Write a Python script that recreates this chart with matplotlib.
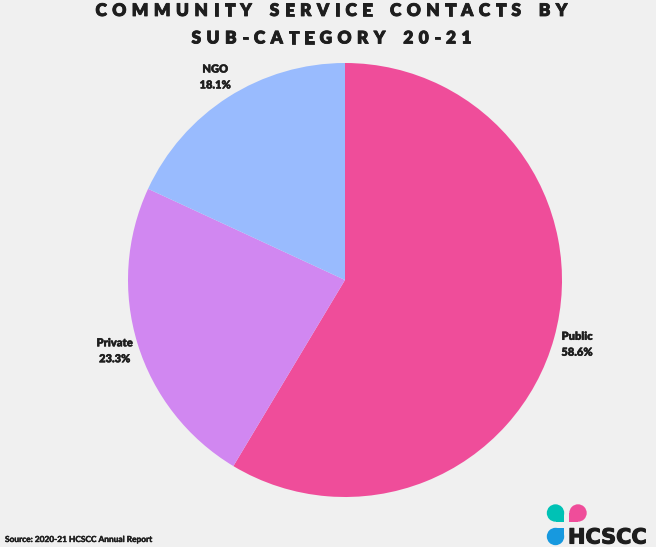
import matplotlib
matplotlib.use("Agg")
import matplotlib.pyplot as plt
import matplotlib.patheffects as pe
from matplotlib.patches import Rectangle, Circle

# data
labels = ["Public", "Private", "NGO"]
shares = [58.6, 23.3, 18.1]
colors = ["#EF4D9A", "#D187F1", "#99BBFE"]

title_lines = ["COMMUNITY SERVICE CONTACTS BY", "SUB-CATEGORY 20-21"]
source = "Source: 2020-21 HCSCC Annual Report"

fig = plt.figure(figsize=(6.63, 5.52), dpi=100)
fig.patch.set_facecolor("white")

# overlay axes in pixel coordinates
bg = fig.add_axes([0, 0, 1, 1], zorder=0)
bg.set_xlim(0, 663)
bg.set_ylim(552, 0)
bg.axis("off")
bg.add_patch(Rectangle((0, 0), 656, 547, facecolor="#F0F0F0", edgecolor="none"))

# thicker strokes for heavy text
heavy = lambda w: [pe.withStroke(linewidth=w, foreground="#1E1E1E")]

# pie
ax = fig.add_axes([128 / 663, 55 / 552, 434 / 663, 434 / 552], zorder=1)
ax.patch.set_alpha(0)
wedges, texts = ax.pie(shares, colors=colors, startangle=90, counterclock=False,
                       labels=[f"{l}\n{s}%" for l, s in zip(labels, shares)],
                       labeldistance=1.11,
                       textprops=dict(fontsize=8, fontweight="heavy", family="Lato",
                                      color="#1E1E1E", linespacing=1.55))
for t in texts:
    t.set_ha("center")
    t.set_va("center")
    t.set_path_effects(heavy(0.3))
ax.set_xlim(-1, 1)
ax.set_ylim(-1, 1)
ax.set_aspect("equal")
ax.axis("off")

# letter-spaced title
renderer = fig.canvas.get_renderer()
tfont = dict(fontsize=12.5, fontweight="heavy", family="Lato", color="#1E1E1E")


def char_widths(s):
    out = []
    for ch in s:
        if ch == " ":
            out.append(7)
        else:
            t = bg.text(0, 0, ch, **tfont)
            out.append(t.get_window_extent(renderer).width)
            t.remove()
    return out


w1 = char_widths(title_lines[0])
track = (472 - sum(w1)) / (len(w1) - 1)
for line, yc in zip(title_lines, [11, 38.5]):
    ws = char_widths(line)
    total = sum(ws) + track * (len(ws) - 1)
    x = 331.5 - total / 2
    for ch, w in zip(line, ws):
        if ch != " ":
            bg.text(x, yc, ch, ha="left", va="center", path_effects=heavy(0.6), **tfont)
        x += w + track

# source note
bg.text(5, 539.5, source, fontsize=6, fontweight="bold", family="Lato",
        color="#1E1E1E", ha="left", va="center", path_effects=heavy(0.3))

# logo
for (cx, cy, dx, dy, c) in [(555.5, 513, 1, 1, "#00C2B5"),
                            (578, 513, -1, 1, "#EF4D9A"),
                            (555.5, 536.5, 1, -1, "#1799DF")]:
    bg.add_patch(Circle((cx, cy), 8.7, facecolor=c, edgecolor="none"))
    bg.add_patch(Rectangle((cx, cy), 8.7 * dx, 8.7 * dy, facecolor=c, edgecolor="none"))
bg.text(568, 537.5, "HCSCC", fontsize=15, fontweight="bold", family="DejaVu Sans",
        color="#1E1E1E", ha="left", va="center", path_effects=heavy(0.8))

fig.savefig("out.png", dpi=100, facecolor=fig.get_facecolor())
